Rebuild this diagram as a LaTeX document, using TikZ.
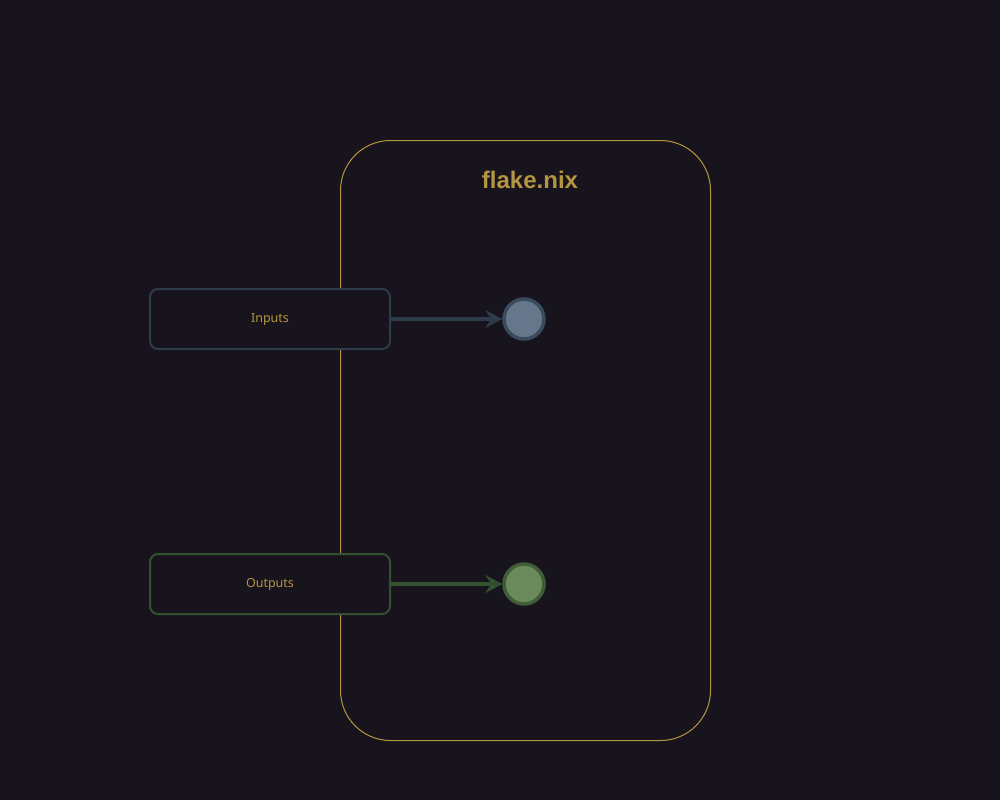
\documentclass[tikz,border=0pt]{standalone}
\usepackage{fontspec}
\setmainfont{Noto Sans}
\newfontfamily\titlefont{Liberation Sans}
\usetikzlibrary{arrows.meta}
\definecolor{bg}{HTML}{17141D}
\definecolor{gold}{HTML}{B5953F}
\definecolor{inborder}{HTML}{2E3B4B}
\definecolor{incirc}{HTML}{66778B}
\definecolor{incircb}{HTML}{3B4B5E}
\definecolor{outborder}{HTML}{33502F}
\definecolor{outcirc}{HTML}{6C8A5C}
\definecolor{outcircb}{HTML}{3F5D36}
\tikzset{
  boxstyle/.style={draw, fill=bg, line width=2pt, rounded corners=8pt, minimum width=240pt, minimum height=60pt, inner sep=0pt, text height=9pt, text depth=2pt, text=gold, font=\fontsize{12.5pt}{15pt}\selectfont},
  dotstyle/.style={circle, line width=3.5pt, minimum size=40pt, inner sep=0pt},
  arr/.style={line width=4pt, -{Stealth[length=17pt,width=18pt,inset=6pt]}}
}
\begin{document}
\begin{tikzpicture}[x=1pt,y=-1pt]
\fill[bg] (0,0) rectangle (1000,800);
\useasboundingbox (0,0) rectangle (1000,800);
\draw[gold, line width=1pt, rounded corners=50pt] (340.5,140.5) rectangle (710.5,740.5);
\node[text=gold, font=\titlefont\bfseries\fontsize{24pt}{28pt}\selectfont] (title) at (530,180) {flake.nix};
\node[boxstyle, draw=inborder] (inputs) at (270,319) {Inputs};
\node[dotstyle, draw=incircb, fill=incirc] (indot) at (524,319) {};
\draw[arr, inborder] (inputs.east) -- (indot.west);
\node[boxstyle, draw=outborder] (outputs) at (270,584) {Outputs};
\node[dotstyle, draw=outcircb, fill=outcirc] (outdot) at (524,584) {};
\draw[arr, outborder] (outputs.east) -- (outdot.west);
\end{tikzpicture}
\end{document}
